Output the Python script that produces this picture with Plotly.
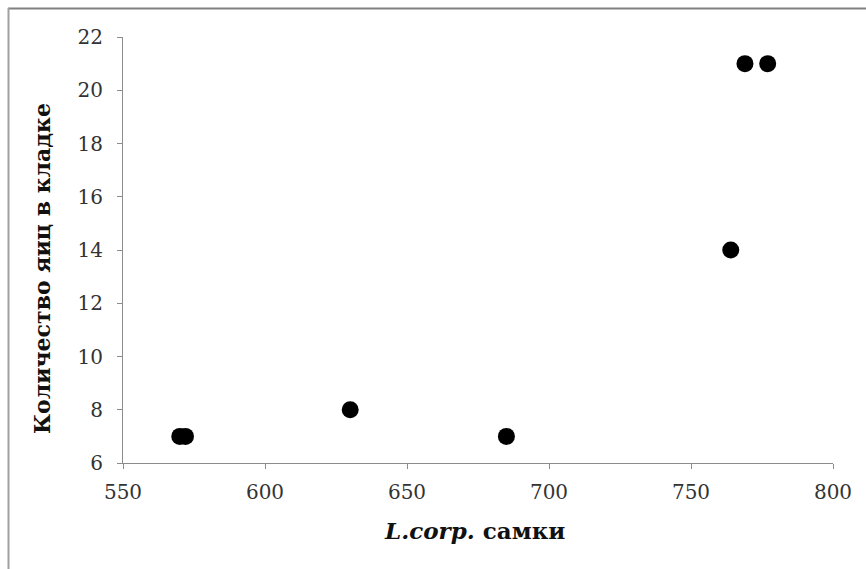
import plotly.graph_objects as go

# Female L. corp. measurements vs. clutch size
female_size = [570, 572, 630, 685, 764, 769, 777]
clutch_eggs = [7, 7, 8, 7, 14, 21, 21]

x_ticks = [550, 600, 650, 700, 750, 800]
y_ticks = [6, 8, 10, 12, 14, 16, 18, 20, 22]

W, H = 866, 569
ML, MR, MT, MB = 123, 33, 37, 106
PW, PH = W - ML - MR, H - MT - MB

SERIF = "DejaVu Serif"


def px_x(px):
    return (px - ML) / PW


def px_y(py):
    return 1 - (py - MT) / PH


fig = go.Figure()
fig.add_trace(go.Scatter(
    x=female_size, y=clutch_eggs, mode="markers",
    marker=dict(color="black", size=17, line=dict(width=0)),
    showlegend=False, cliponaxis=False,
))

axis_common = dict(
    showgrid=False, zeroline=False, showline=True,
    linecolor="#8c8c8c", linewidth=1,
    ticks="outside", ticklen=5, tickcolor="#8c8c8c",
    tickfont=dict(family=SERIF, size=20, color="#333333"),
)

fig.update_layout(
    width=W, height=H,
    margin=dict(l=ML, r=MR, t=MT, b=MB),
    paper_bgcolor="white", plot_bgcolor="white",
    xaxis=dict(range=[550, 800], tickvals=x_ticks, ticklabelstandoff=6, **axis_common),
    yaxis=dict(range=[6, 22], tickvals=y_ticks, ticklabelstandoff=10, **axis_common),
    annotations=[
        dict(text="<b><i>L.corp.</i> самки</b>", xref="paper", yref="paper",
             x=px_x(474), y=px_y(530), xanchor="center", yanchor="middle",
             showarrow=False,
             font=dict(family=SERIF, size=23, color="#111111")),
        dict(text="<b>Количество яиц в кладке</b>", xref="paper", yref="paper",
             x=px_x(42), y=px_y(269), xanchor="center", yanchor="middle",
             showarrow=False, textangle=-90,
             font=dict(family=SERIF, size=22, color="#111111")),
    ],
    shapes=[
        dict(type="line", xref="paper", yref="paper",
             x0=px_x(8), y0=px_y(8.5), x1=px_x(W + 2), y1=px_y(8.5),
             line=dict(color="#808080", width=2)),
        dict(type="line", xref="paper", yref="paper",
             x0=px_x(8.5), y0=px_y(8), x1=px_x(8.5), y1=px_y(H + 2),
             line=dict(color="#a0a0a0", width=2)),
    ],
)

fig.write_html("out.html")
